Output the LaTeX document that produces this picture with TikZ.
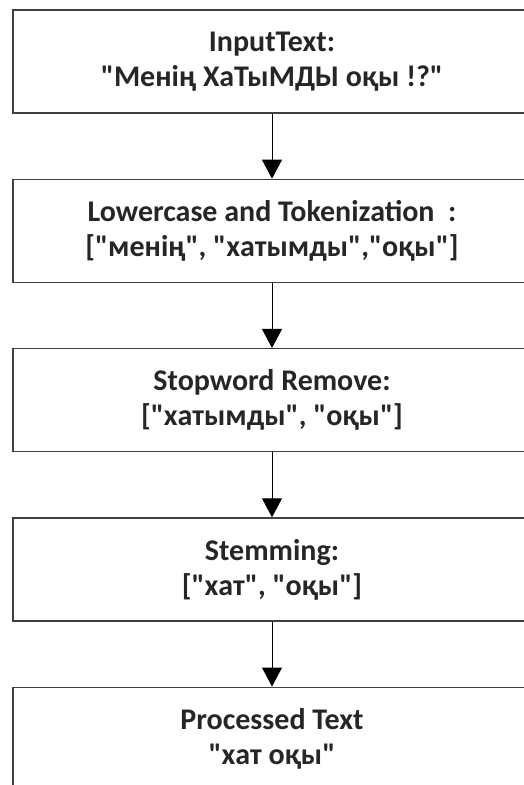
\documentclass[tikz,border=0pt]{standalone}
\usepackage{fontspec}
\setmainfont{Carlito}[Ligatures=TeXOff]
\usepackage{xcolor}
\usetikzlibrary{arrows.meta,positioning}
\definecolor{edgegray}{HTML}{404040}
\definecolor{inkgray}{HTML}{262626}
\tikzset{
  stage/.style={draw=edgegray, line width=1.3pt, rectangle, align=center,
                minimum width=518pt, minimum height=103pt, inner sep=0pt,
                font=\fontsize{30}{35}\selectfont\bfseries, text=inkgray},
  flow/.style={-{Triangle[length=19pt,width=20pt]}, line width=1pt, black},
}
\begin{document}
\begin{tikzpicture}[x=1pt,y=1pt]
  \useasboundingbox (0,0) rectangle (523,-785);
  \node[stage] (input) at (272,-61.5)
    {InputText:\\ "Менің ХаТыМДЫ оқы !?"};
  \node[stage, below=65pt of input] (token)
    {Lowercase and Tokenization~ :\\ {[}"менің", "хатымды","оқы"]};
  \node[stage, below=65pt of token] (stop)
    {Stopword Remove:\\ {[}"хатымды", "оқы"]};
  \node[stage, below=65pt of stop] (stem)
    {Stemming:\\ {[}"хат", "оқы"]};
  \node[stage, below=65pt of stem] (output)
    {Processed Text\\ "хат оқы"};
  \draw[flow] (input) -- (token);
  \draw[flow] (token) -- (stop);
  \draw[flow] (stop) -- (stem);
  \draw[flow] (stem) -- (output);
\end{tikzpicture}
\end{document}
